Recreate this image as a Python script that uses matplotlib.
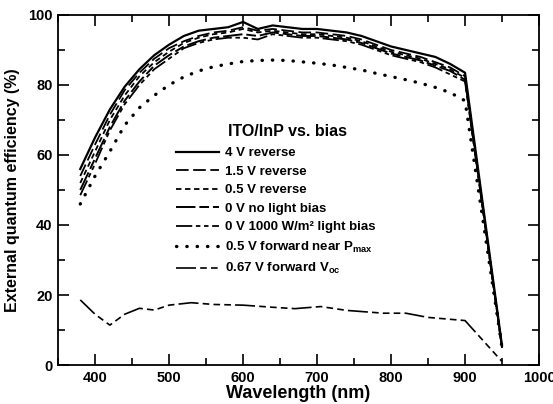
import matplotlib
matplotlib.use("Agg")
import matplotlib.pyplot as plt
from matplotlib.ticker import MultipleLocator

plt.rcParams['font.family'] = ['Liberation Sans', 'DejaVu Sans']
plt.rcParams['font.weight'] = 'bold'
plt.rcParams['mathtext.fontset'] = 'custom'
plt.rcParams['mathtext.bf'] = 'Liberation Sans:bold'
plt.rcParams['mathtext.rm'] = 'Liberation Sans:bold'
plt.rcParams['mathtext.default'] = 'bf'

# ---- data ----
wl = [380, 400, 420, 440, 460, 480, 500, 520, 540, 560, 580, 600, 620, 640,
      660, 680, 700, 720, 740, 760, 780, 800, 820, 840, 860, 880, 900, 950]

rev4 = [56, 65, 73, 79.5, 84.5, 88.5, 91.5, 94, 95.5, 96, 96.5, 98, 96, 97,
        96.5, 96, 96, 95.5, 95, 94, 92.5, 91, 90, 89, 88, 86, 83.5, 5.5]
rev15 = [54, 63, 71.5, 78.5, 83.5, 87.5, 90.5, 92.5, 94, 95, 95.5, 96.5, 95.5, 96,
         95.5, 95, 95, 94.5, 94, 93, 91.5, 90, 89, 88, 86.5, 85, 82.5, 5]
rev05 = [52, 61, 70, 77, 82.5, 86.5, 89.5, 92, 93.5, 94.5, 95, 96, 95, 95.5,
         95, 94.5, 94.5, 94, 93.5, 92.5, 91, 89.5, 88.5, 87.5, 86, 84.5, 82, 5]
zero_dark = [50, 59, 68, 75.5, 81, 85.5, 88.5, 91, 92.5, 93.5, 94, 94.5, 94, 95,
             94.5, 94, 94, 93.5, 93, 92, 90.5, 89, 88, 87, 85.5, 84, 81.5, 5]
zero_light = [48.5, 57.5, 67, 74.5, 80, 84.5, 87.5, 90.5, 92, 93, 93.5, 93.5, 93, 94.5,
              94, 93.5, 93.5, 93, 92.5, 91.5, 90, 88.5, 87.5, 86.5, 85, 83, 81, 5]
fwd_pmax = [46, 54, 61, 68.5, 73.5, 77, 80, 82.3, 84, 85.2, 86, 86.7, 87, 87.1,
            87, 86.6, 86.2, 85.7, 85, 84.3, 83.3, 82.4, 81.5, 80.5, 79.3, 77.8, 75.5, 5]

wl_voc = [380, 400, 420, 440, 460, 480, 500, 530, 560, 600, 640, 670, 705,
          740, 790, 820, 850, 900, 950]
fwd_voc = [18.6, 14.5, 11.4, 14.5, 16.2, 15.7, 17.1, 17.8, 17.3, 17.1, 16.5, 16.1,
           16.7, 15.6, 14.8, 14.8, 13.6, 12.7, 1.0]

legend_title = "ITO/InP vs. bias"
labels = ["4 V reverse", "1.5 V reverse", "0.5 V reverse", "0 V no light bias",
          "0 V 1000 W/m² light bias", "0.5 V forward near P$_{max}$",
          "0.67 V forward V$_{oc}$"]

fig = plt.figure(figsize=(5.53, 4.04), dpi=100)
ax = fig.add_axes([0.105, 0.0965, 0.8697, 0.8665])

k = dict(color='black')
ax.plot(wl, rev4, lw=1.6, ls='-', label=labels[0], **k)
ax.plot(wl, rev15, lw=1.3, ls=(0, (7, 2.5)), label=labels[1], **k)
ax.plot(wl, rev05, lw=1.3, ls=(0, (3, 2)), label=labels[2], **k)
ax.plot(wl, zero_dark, lw=1.4, ls=(0, (10, 2, 5, 2)), label=labels[3], **k)
ax.plot(wl, zero_light, lw=1.3, ls=(0, (9, 2, 2.5, 2, 2.5, 2)), label=labels[4], **k)
ax.plot(wl, fwd_pmax, lw=2.4, ls=(0, (0.1, 3.0)), dash_capstyle='round',
        label=labels[5], **k)
ax.plot(wl_voc, fwd_voc, lw=1.2, ls=(0, (12, 2.5, 4, 2.5, 4, 2.5, 4, 2.5)),
        label=labels[6], **k)

ax.set_xlim(350, 1000)
ax.set_ylim(0, 100)
ax.xaxis.set_major_locator(MultipleLocator(100))
ax.xaxis.set_minor_locator(MultipleLocator(50))
ax.yaxis.set_major_locator(MultipleLocator(20))
ax.yaxis.set_minor_locator(MultipleLocator(10))
ax.tick_params(which='both', direction='in', top=True, right=True,
               labelsize=10.5, width=1.2, pad=4)
ax.tick_params(which='major', length=8)
ax.tick_params(which='minor', length=5)
for t in ax.get_xticklabels() + ax.get_yticklabels():
    t.set_fontweight('bold')
for s in ax.spines.values():
    s.set_linewidth(1.3)

ax.set_xlabel("Wavelength (nm)", fontsize=13, fontweight='bold', labelpad=0)
ax.set_ylabel("External quantum efficiency (%)", fontsize=11.5, fontweight='bold', labelpad=6)

leg = ax.legend(loc='upper left', bbox_to_anchor=(0.245, 0.623), frameon=False,
                fontsize=9.5, handlelength=3.3,
                handletextpad=0.45, labelspacing=0.48, borderpad=0, borderaxespad=0)
for t in leg.get_texts():
    t.set_fontweight('bold')
ax.text(0.3534, 0.666, legend_title, transform=ax.transAxes, ha='left', va='center',
        fontsize=11.5, fontweight='bold')

fig.savefig("out.png", dpi=100)
